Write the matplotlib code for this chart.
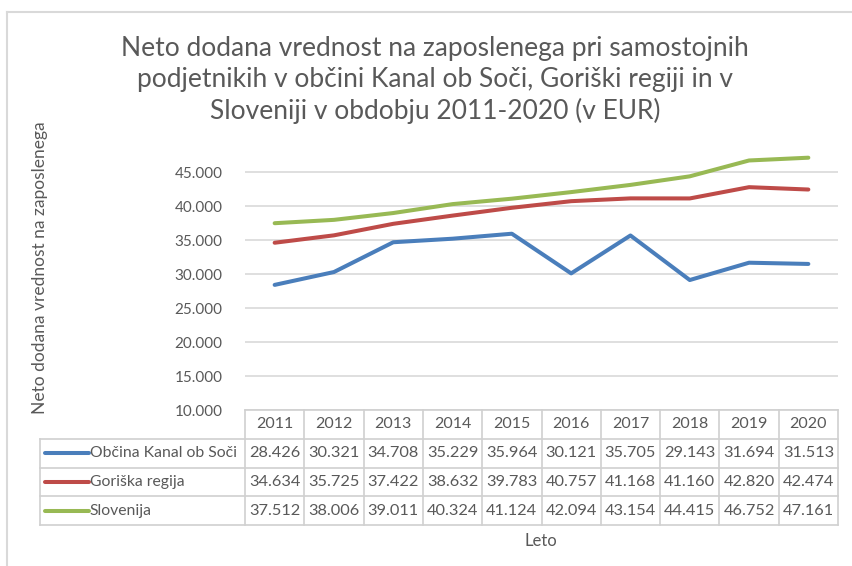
import matplotlib
matplotlib.use("Agg")
import matplotlib.pyplot as plt
from matplotlib.lines import Line2D

years = ["2011", "2012", "2013", "2014", "2015", "2016", "2017", "2018", "2019", "2020"]
series_names = ["Občina Kanal ob Soči", "Goriška regija", "Slovenija"]
kanal = [28426, 30321, 34708, 35229, 35964, 30121, 35705, 29143, 31694, 31513]
goriska = [34634, 35725, 37422, 38632, 39783, 40757, 41168, 41160, 42820, 42474]
slovenija = [37512, 38006, 39011, 40324, 41124, 42094, 43154, 44415, 46752, 47161]
colors = ["#4a7ebb", "#be4b48", "#98b954"]
yticks = [10000, 15000, 20000, 25000, 30000, 35000, 40000, 45000]

def fmt(v):
    return f"{v:,}".replace(",", ".")

plt.rcParams['font.family'] = ['Lato', 'DejaVu Sans']
txt = "#595959"
grid = "#d9d9d9"

W, H = 853, 566
fig = plt.figure(figsize=(W / 100, H / 100), dpi=100)

def fx(px):
    return px / W

def fy(py):
    return 1 - py / H

# outer border
fig.add_artist(Line2D([fx(7), fx(7)], [fy(12), 0], color=grid, lw=1.5))
fig.add_artist(Line2D([fx(7), 1], [fy(12), fy(12)], color=grid, lw=1.5))

# main plot axes
x0, x1, ytop, ybot = 245, 838, 152, 410
ax = fig.add_axes([fx(x0), fy(ybot), fx(x1 - x0), (ybot - ytop) / H])
idx = list(range(len(years)))
for vals, c in zip([kanal, goriska, slovenija], colors):
    ax.plot(idx, vals, color=c, lw=2.9, solid_capstyle='round', solid_joinstyle='round', zorder=3)
ax.set_xlim(-0.5, len(years) - 0.5)
ax.set_ylim(10000, 48000)
ax.set_yticks(yticks)
ax.set_yticklabels([fmt(v) for v in yticks], color=txt, fontsize=11)
ax.tick_params(axis='y', length=0, pad=16)
ax.set_xticks([])
for s in ax.spines.values():
    s.set_visible(False)
ax.grid(axis='y', color=grid, lw=1.2)
ax.set_axisbelow(True)

# title
fig.text(fx(435), fy(80), "Neto dodana vrednost na zaposlenega pri samostojnih\n"
         "podjetnikih v občini Kanal ob Soči, Goriški regiji in v\n"
         "Sloveniji v obdobju 2011-2020 (v EUR)",
         ha='center', va='center', fontsize=19, color=txt, linespacing=1.3)

# y label
fig.text(fx(40), fy(268), "Neto dodana vrednost na zaposlenega", rotation=90,
         ha='center', va='center', fontsize=12.5, color=txt)

# data table
tx0 = 40
colw = (x1 - x0) / len(years)
left_ext = -0.5 - (x0 - tx0) / colw
tab = fig.add_axes([fx(tx0), fy(525), fx(x1 - tx0), (525 - 410) / H])
tab.set_xlim(left_ext, len(years) - 0.5)
tab.set_ylim(4, 0)
tab.axis('off')
lc = "#d0d0d0"
tab.plot([-0.5, len(years) - 0.5], [0, 0], color=lc, lw=1.2, clip_on=False)
for r in [1, 2, 3, 4]:
    tab.plot([left_ext, len(years) - 0.5], [r, r], color=lc, lw=1.2, clip_on=False)
for i in range(len(years) + 1):
    tab.plot([i - 0.5, i - 0.5], [0, 4], color=lc, lw=1.2, clip_on=False)
tab.plot([left_ext, left_ext], [1, 4], color=lc, lw=1.2, clip_on=False)
for i, yr in enumerate(years):
    tab.text(i, 0.5, yr, ha='center', va='center', fontsize=11.5, color=txt)
for r, (name, vals, c) in enumerate(zip(series_names, [kanal, goriska, slovenija], colors), start=1):
    tab.plot([left_ext + 0.08, left_ext + 0.82], [r + 0.5, r + 0.5], color=c, lw=2.9,
             solid_capstyle='round', clip_on=False)
    tab.text(left_ext + 0.84, r + 0.5, name, ha='left', va='center', fontsize=11.3, color=txt)
    for i, v in enumerate(vals):
        tab.text(i, r + 0.5, fmt(v), ha='center', va='center', fontsize=11.8, color=txt)

fig.text(fx(541), fy(541), "Leto", ha='center', va='center', fontsize=12, color=txt)

fig.savefig("out.png", dpi=100, facecolor='white')
